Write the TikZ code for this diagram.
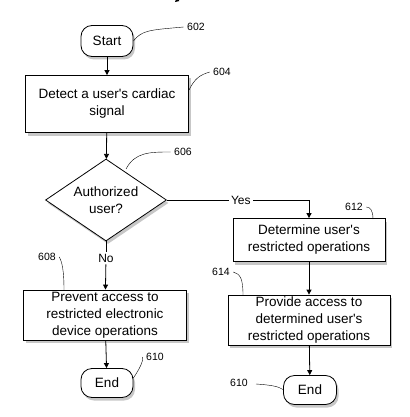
\documentclass[tikz,border=0pt]{standalone}
\usepackage{fontspec}
\setmainfont{Liberation Sans}
\usetikzlibrary{shapes.geometric,arrows.meta,shadows}
\newcommand{\q}{\textquotesingle}
\begin{document}
\begin{tikzpicture}[x=1pt,y=-1pt,
  every shadow/.style={fill=black!40,opacity=0.55},
  txt/.style={font=\fontsize{13.5}{17}\selectfont},
  proc/.style={txt,draw,thick,fill=white,drop shadow={shadow xshift=2pt,shadow yshift=-3pt},align=center,inner sep=0pt},
  term/.style={txt,draw,thick,fill=white,rounded corners=11pt,drop shadow={shadow xshift=2pt,shadow yshift=-3pt},inner sep=0pt},
  dec/.style={txt,draw,thick,diamond,fill=white,drop shadow={shadow xshift=2pt,shadow yshift=-3pt},align=center,inner sep=0pt,aspect=1.5},
  flow/.style={thick,-{Triangle[length=5pt,width=5pt]}},
  ref/.style={font=\fontsize{10.5}{12}\selectfont},
  lbl/.style={font=\fontsize{12}{14}\selectfont,fill=white,inner sep=2pt},
  lead/.style={thin}]
\useasboundingbox (0,0) rectangle (409,417);
% partial mark at top
\draw[thick,-{Triangle[length=4pt,width=4pt]}] (182,-4) -- (175,2);

\node[term,minimum width=52pt,minimum height=31pt] (start) at (107,41) {Start};
\node[proc,minimum width=163pt,minimum height=57pt] (b604) at (107,104) {Detect a user\q s cardiac\\signal};
\node[dec,minimum width=121pt,minimum height=82pt] (d606) at (106,200) {Authorized\\user?};
\node[proc,minimum width=152pt,minimum height=43pt] (b612) at (309,240) {Determine user\q s\\restricted operations};
\node[proc,minimum width=163pt,minimum height=50pt] (b608) at (105,315) {Prevent access to\\restricted electronic\\device operations};
\node[proc,minimum width=162pt,minimum height=50pt] (b614) at (309,320) {Provide access to\\determined user\q s\\restricted operations};
\node[term,minimum width=52pt,minimum height=29pt] (end1) at (107,383) {End};
\node[term,minimum width=53pt,minimum height=29pt] (end2) at (310,390) {End};

\draw[flow] (start) -- (b604);
\draw[flow] (b604) -- (d606);
\coordinate (yc) at (309,200);
\draw[thick] (d606.east) -- node[lbl,pos=0.52] (yes) {Yes} (yc);
\draw[flow] (yc) -- (b612);
\node[lbl] (no) at (106,258) {No};
\draw[thick] (d606.south) -- (no);
\draw[flow] (no) -- (b608);
\draw[flow] (b612) -- (b614);
\draw[flow] (b608) -- (end1);
\draw[flow] (b614) -- (end2);

% reference labels
\node[ref] (l602) at (196,27) {602};
\draw[lead] (start.east) .. controls (142,30) and (150,30) .. (l602.west);
\node[ref] (l604) at (222,72) {604};
\coordinate (c604) at (189,90);
\draw[lead] (c604) .. controls (195,78) and (200,75) .. (l604.west);
\node[ref] (l606) at (183,152) {606};
\coordinate (c606) at (126,169);
\draw[lead] (c606) .. controls (135,152) and (150,152) .. (l606.west);
\node[ref] (l612) at (354,207) {612};
\coordinate (c612) at (373,219);
\draw[lead] (l612.east) .. controls (370,207) and (373,210) .. (c612);
\node[ref] (l608) at (47,257) {608};
\coordinate (c608) at (64,290);
\draw[lead] (l608.east) .. controls (62,262) and (64,270) .. (c608);
\node[ref] (l614) at (221,272) {614};
\coordinate (c614) at (243,295);
\draw[lead] (l614.east) .. controls (240,274) and (243,278) .. (c614);
\node[ref] (l610a) at (155,357) {610};
\draw[lead] (end1.east) ++(0,-5) .. controls (140,368) and (143,362) .. (l610a.west);
\node[ref] (l610b) at (239,383) {610};
\coordinate (c610b) at (284,390);
\draw[lead] (256,384) .. controls (270,385) and (278,386) .. (c610b);
\end{tikzpicture}
\end{document}
